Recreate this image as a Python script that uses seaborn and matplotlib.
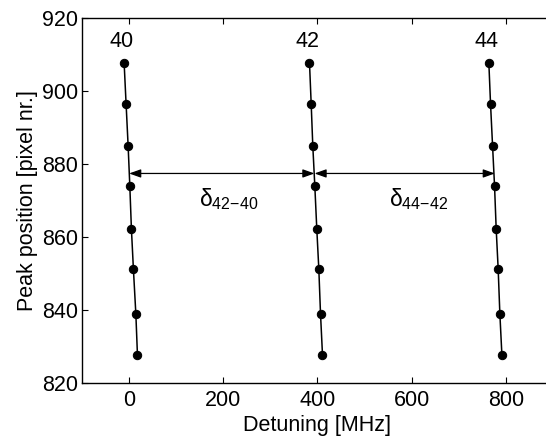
import matplotlib
matplotlib.use("Agg")
import matplotlib.pyplot as plt
import numpy as np
import pandas as pd
import seaborn as sns

# peak positions (pixel nr.) are the same for every line
peak_pos = [907.7, 896.4, 885.0, 874.0, 862.2, 851.3, 839.0, 827.8]

# detuning (MHz) of each peak, per line
det_40 = [-10.6, -6.4, -2.1, 1.5, 4.9, 9.1, 14.3, 17.7]
det_42 = [383.0, 386.6, 390.0, 394.3, 398.5, 402.8, 406.4, 410.6]
det_44 = [763.8, 767.4, 771.7, 775.9, 779.4, 783.6, 787.2, 791.5]
line_names = ["40", "42", "44"]

# separation arrows
arrow_y = 877.4
arrow_x = [0.0, 393.6, 776.6]
delta_labels = [r"δ$_\mathregular{42{-}40}$", r"δ$_\mathregular{44{-}42}$"]

df = pd.DataFrame({
    "detuning": det_40 + det_42 + det_44,
    "peak": peak_pos * 3,
    "line": np.repeat(line_names, len(peak_pos)),
})

sns.set_style("ticks")
plt.rcParams["font.family"] = ["Liberation Sans", "DejaVu Sans"]
plt.rcParams["mathtext.fontset"] = "custom"
plt.rcParams["mathtext.rm"] = "Liberation Sans"
plt.rcParams["text.color"] = "black"
plt.rcParams["axes.labelcolor"] = "black"
fs = 15.5

fig = plt.figure(figsize=(5.46, 4.42), dpi=100)
ax = fig.add_axes([0.1502, 0.1328, 0.8626, 0.8271])

sns.lineplot(data=df, x="detuning", y="peak", units="line", estimator=None,
             sort=False, color="black", lw=1.1, marker="o", markersize=6,
             markeredgecolor="black", ax=ax, legend=False)

# line labels above the top points
for name, g in df.groupby("line"):
    top = g.iloc[0]
    ax.text(top["detuning"] - 5, 913.4, name, ha="center", va="center",
            fontsize=fs, color="black")

# arrows between lines
for i in range(2):
    ax.annotate("", xy=(arrow_x[i], arrow_y), xytext=(arrow_x[i + 1], arrow_y),
                arrowprops=dict(arrowstyle="<|-|>,head_length=0.7,head_width=0.25",
                                color="black", lw=0.9, shrinkA=0, shrinkB=0))
ax.text(211, 870.5, delta_labels[0], ha="center", va="center", fontsize=fs + 1, color="black")
ax.text(615, 870.5, delta_labels[1], ha="center", va="center", fontsize=fs + 1, color="black")

ax.set_xlim(-100, 900)
ax.set_ylim(820, 920)
ax.set_xticks([0, 200, 400, 600, 800])
ax.set_yticks([820, 840, 860, 880, 900, 920])
ax.tick_params(direction="in", length=4, width=0.8, labelsize=fs,
               top=True, right=True, colors="black")
ax.tick_params(axis="x", pad=5)
ax.tick_params(axis="y", pad=3)
for s in ax.spines.values():
    s.set_color("black")
    s.set_linewidth(1.0)
ax.set_xlabel("Detuning [MHz]", fontsize=fs, labelpad=3, color="black")
ax.set_ylabel("Peak position [pixel nr.]", fontsize=fs, labelpad=3, color="black")

fig.savefig("out.png", dpi=100)
